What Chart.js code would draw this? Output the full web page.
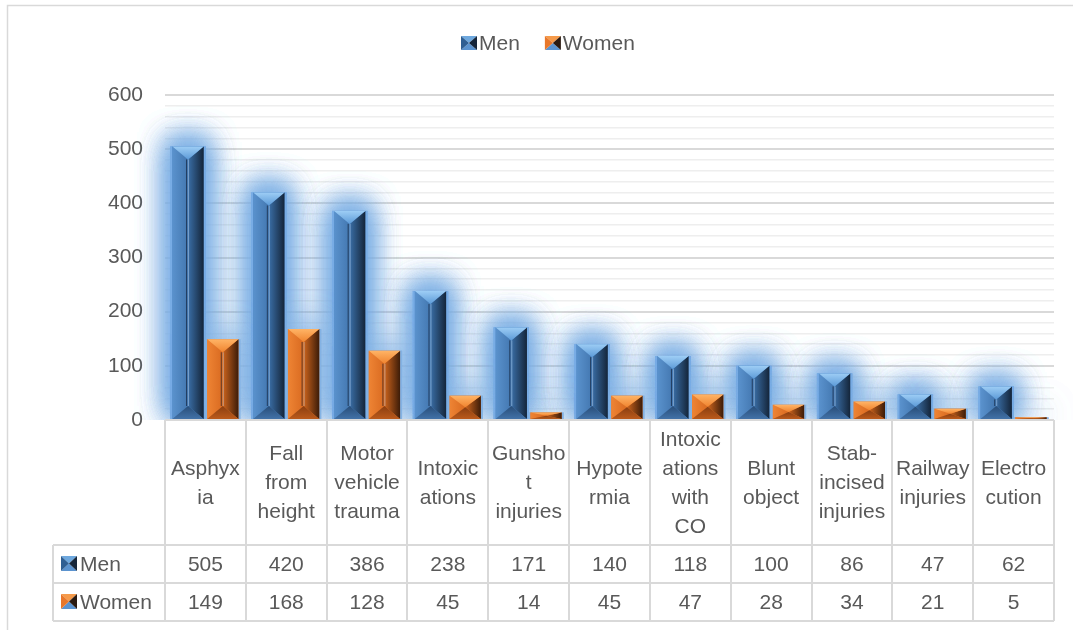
<!DOCTYPE html>
<html>
<head>
<meta charset="utf-8">
<script src="https://cdn.jsdelivr.net/npm/chart.js@4.4.1/dist/chart.umd.min.js"></script>
<style>
  body { margin: 0; background: #fff; }
  canvas { display: block; }
</style>
</head>
<body>
<canvas id="grafica" width="1073" height="630"></canvas>
<script>
// Datos
const categorias = [
    ['Asphyx', 'ia'],
    ['Fall', 'from', 'height'],
    ['Motor', 'vehicle', 'trauma'],
    ['Intoxic', 'ations'],
    ['Gunsho', 't', 'injuries'],
    ['Hypote', 'rmia'],
    ['Intoxic', 'ations', 'with', 'CO'],
    ['Blunt', 'object'],
    ['Stab-', 'incised', 'injuries'],
    ['Railway', 'injuries'],
    ['Electro', 'cution']
];
const hombres = [505, 420, 386, 238, 171, 140, 118, 100, 86, 47, 62];
const mujeres = [149, 168, 128, 45, 14, 45, 47, 28, 34, 21, 5];
const series = ['Men', 'Women'];
const ticksY = [0, 100, 200, 300, 400, 500, 600];

const FUENTE = '"Liberation Sans", Arial, sans-serif';
const GRIS = '#595959';
const LINEA = '#d9d9d9';

// Colores de las caras biseladas
const paletas = [
    { sup: ['#9dcdf5', '#5d9bd8'], izq: ['#5a92cd', '#4377b0'], der: ['#3a6ea6', '#14253a'], inf: ['#4272a8', '#284d78'], brillo: 'rgba(120,172,228,0.9)', pasadas: 4 },
    { sup: ['#ffb466', '#f0842f'], izq: ['#ee8434', '#d96a20'], der: ['#cc641d', '#3d1c08'], inf: ['#bb5a1b', '#8a3e10'], brillo: 'rgba(130,178,228,0.8)', pasadas: 2 }
];

function degradado(ctx, x0, y0, x1, y1, c) {
    const g = ctx.createLinearGradient(x0, y0, x1, y1);
    g.addColorStop(0, c[0]);
    g.addColorStop(1, c[1]);
    return g;
}

function cara(ctx, puntos, relleno) {
    ctx.beginPath();
    ctx.moveTo(puntos[0][0], puntos[0][1]);
    for (let i = 1; i < puntos.length; i++) ctx.lineTo(puntos[i][0], puntos[i][1]);
    ctx.closePath();
    ctx.fillStyle = relleno;
    ctx.fill();
}

// Barra con bisel tipo pirámide
function dibujarBisel(ctx, izq, der, arriba, abajo, p) {
    const cx = (izq + der) / 2;
    const h = abajo - arriba;
    const d = Math.min(13, h / 2);
    cara(ctx, [[izq, arriba], [cx, arriba + d], [cx, abajo - d], [izq, abajo]], degradado(ctx, izq, 0, cx, 0, p.izq));
    cara(ctx, [[der, arriba], [cx, arriba + d], [cx, abajo - d], [der, abajo]], degradado(ctx, cx, 0, der, 0, p.der));
    cara(ctx, [[izq, arriba], [der, arriba], [cx, arriba + d]], degradado(ctx, 0, arriba, 0, arriba + d, p.sup));
    cara(ctx, [[izq, abajo], [der, abajo], [cx, abajo - d]], degradado(ctx, 0, abajo, 0, abajo - d, p.inf));
    if (h > 2 * d + 2) {
        ctx.lineWidth = 1;
        ctx.strokeStyle = 'rgba(10,20,40,0.6)';
        ctx.beginPath();
        ctx.moveTo(cx - 1.5, arriba + d);
        ctx.lineTo(cx - 1.5, abajo - d);
        ctx.stroke();
        ctx.strokeStyle = 'rgba(200,225,250,0.45)';
        ctx.beginPath();
        ctx.moveTo(cx + 0.5, arriba + d);
        ctx.lineTo(cx + 0.5, abajo - d);
        ctx.stroke();
    }
}

// Icono de leyenda (cuadro biselado)
function dibujarIcono(ctx, x, y, w, h, i) {
    const cx = x + w / 2, cy = y + h / 2;
    const col = i === 0
        ? { izq: '#2f5f93', der: '#16263a', sup: '#6ea8de', inf: '#5b93cf' }
        : { izq: '#e8772a', der: '#2a1a10', sup: '#f59a4a', inf: '#5b93cf' };
    cara(ctx, [[x, y], [x + w, y], [cx, cy]], col.sup);
    cara(ctx, [[x, y + h], [x + w, y + h], [cx, cy]], col.inf);
    cara(ctx, [[x, y], [cx, cy], [x, y + h]], col.izq);
    cara(ctx, [[x + w, y], [cx, cy], [x + w, y + h]], col.der);
}

const pluginTabla = {
    id: 'tablaDatos',
    beforeDraw(chart) {
        const ctx = chart.ctx;
        ctx.save();
        ctx.fillStyle = '#fff';
        ctx.fillRect(0, 0, chart.width, chart.height);
        ctx.strokeStyle = LINEA;
        ctx.lineWidth = 1.5;
        ctx.beginPath();
        ctx.moveTo(7.5, chart.height);
        ctx.lineTo(7.5, 5.5);
        ctx.lineTo(chart.width, 5.5);
        ctx.stroke();
        ctx.restore();
    },
    // resplandor azul alrededor de las barras
    beforeDatasetsDraw(chart) {
        const ctx = chart.ctx;
        const area = chart.chartArea;
        ctx.save();
        ctx.beginPath();
        ctx.rect(0, 0, chart.width, area.bottom);
        ctx.clip();
        chart.data.datasets.forEach((ds, i) => {
            const meta = chart.getDatasetMeta(i);
            ctx.shadowColor = paletas[i].brillo;
            ctx.shadowBlur = 30;
            ctx.shadowOffsetY = -5;
            ctx.fillStyle = paletas[i].brillo;
            meta.data.forEach(el => {
                const { x, y, base, width } = el.getProps(['x', 'y', 'base', 'width'], true);
                for (let k = 0; k < paletas[i].pasadas; k++) {
                    ctx.fillRect(x - width / 2 - 2, Math.min(y, base), width + 4, Math.abs(base - y) + 2);
                }
            });
        });
        ctx.restore();
    },
    afterDatasetsDraw(chart) {
        const ctx = chart.ctx;
        ctx.save();
        chart.data.datasets.forEach((ds, i) => {
            const meta = chart.getDatasetMeta(i);
            meta.data.forEach(el => {
                const { x, y, base, width } = el.getProps(['x', 'y', 'base', 'width'], true);
                dibujarBisel(ctx, x - width / 2, x + width / 2, Math.min(y, base), Math.max(y, base), paletas[i]);
            });
        });
        ctx.restore();
    },
    afterDraw(chart) {
        const ctx = chart.ctx;
        const xs = chart.scales.x;
        const area = chart.chartArea;
        const n = categorias.length;
        const ancho = (area.right - area.left) / n;
        const filaCat = area.bottom + 125;
        const filaH = filaCat + 38;
        const filaM = filaH + 38;
        const izqTabla = 53;

        ctx.save();
        // líneas de la tabla
        ctx.strokeStyle = LINEA;
        ctx.lineWidth = 2;
        ctx.beginPath();
        for (let i = 0; i <= n; i++) {
            const lx = Math.round(area.left + i * ancho);
            ctx.moveTo(lx, area.bottom);
            ctx.lineTo(lx, filaM);
        }
        ctx.moveTo(izqTabla, filaCat); ctx.lineTo(area.right, filaCat);
        ctx.moveTo(izqTabla, filaH); ctx.lineTo(area.right, filaH);
        ctx.moveTo(izqTabla, filaM); ctx.lineTo(area.right, filaM);
        ctx.moveTo(izqTabla, filaCat); ctx.lineTo(izqTabla, filaM);
        ctx.moveTo(area.left, area.bottom); ctx.lineTo(area.right, area.bottom);
        ctx.stroke();

        // textos
        ctx.fillStyle = GRIS;
        ctx.font = '21px ' + FUENTE;
        ctx.textAlign = 'center';
        ctx.textBaseline = 'middle';
        const medioCat = (area.bottom + filaCat) / 2 + 1;
        categorias.forEach((lineas, i) => {
            const cx = xs.getPixelForValue(i);
            const y0 = medioCat - (lineas.length - 1) * 29 / 2;
            lineas.forEach((t, k) => ctx.fillText(t, cx, y0 + k * 29));
            ctx.fillText(String(hombres[i]), cx, (filaCat + filaH) / 2 + 1);
            ctx.fillText(String(mujeres[i]), cx, (filaH + filaM) / 2 + 1);
        });

        // encabezados de fila
        ctx.textAlign = 'left';
        [filaCat, filaH].forEach((yTop, i) => {
            const yc = yTop + 19;
            dibujarIcono(ctx, 61, yc - 8, 16, 15, i);
            ctx.fillStyle = GRIS;
            ctx.fillText(series[i], 80, yc + 1);
        });

        // leyenda
        const leyendaY = 43;
        let lx = 461;
        series.forEach((s, i) => {
            dibujarIcono(ctx, lx, leyendaY - 7, 16, 14, i);
            ctx.fillStyle = GRIS;
            ctx.fillText(s, lx + 18, leyendaY + 1);
            lx += 18 + ctx.measureText(s).width + 25;
        });
        ctx.restore();
    }
};

const ctxGrafica = document.getElementById('grafica').getContext('2d');
new Chart(ctxGrafica, {
    type: 'bar',
    data: {
        labels: categorias.map(c => c.join(' ')),
        datasets: [
            { label: series[0], data: hombres, backgroundColor: '#4a82bf', borderWidth: 0 },
            { label: series[1], data: mujeres, backgroundColor: '#e0762b', borderWidth: 0 }
        ]
    },
    options: {
        responsive: false,
        animation: false,
        layout: { padding: { top: 95, right: 19, bottom: 210, left: 0 } },
        datasets: { bar: { categoryPercentage: 0.86, barPercentage: 0.9 } },
        plugins: {
            legend: { display: false },
            tooltip: { enabled: false }
        },
        scales: {
            x: { display: false },
            y: {
                min: 0,
                max: ticksY[ticksY.length - 1],
                afterFit: scale => { scale.width = 165; },
                border: { display: false },
                grid: {
                    drawTicks: false,
                    color: c => (c.tick && c.tick.value % 100 === 0) ? LINEA : '#eeeeee',
                    lineWidth: c => (c.tick && c.tick.value % 100 === 0) ? 2 : 1.5
                },
                ticks: {
                    stepSize: 20,
                    autoSkip: false,
                    padding: 22,
                    color: GRIS,
                    font: { family: FUENTE, size: 21 },
                    callback: v => ticksY.includes(v) ? v : ''
                }
            }
        }
    },
    plugins: [pluginTabla]
});
</script>
</body>
</html>
